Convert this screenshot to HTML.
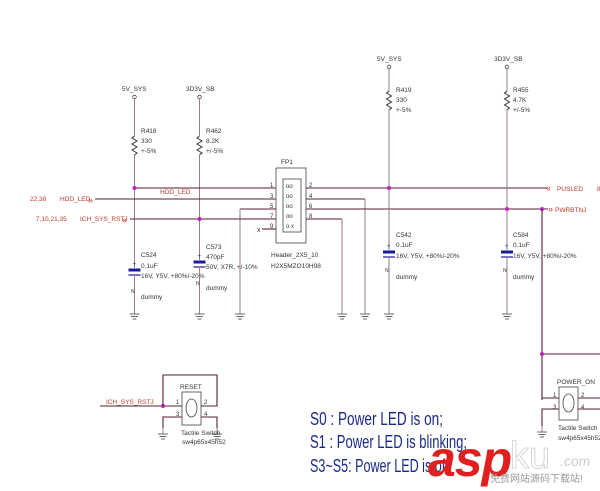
<!DOCTYPE html>
<html><head><meta charset="utf-8"><style>
html,body{margin:0;padding:0;background:#fff;width:600px;height:491px;overflow:hidden}
svg{display:block}
text{font-family:"Liberation Sans",sans-serif}
.s{font-size:6.5px;fill:#333}
.r{font-size:6.5px;fill:#c0392b}
.w{stroke:#5a1f2e;stroke-width:1.1;fill:none}
.v{stroke:#9a7a88;stroke-width:1;fill:none}
.k{stroke:#444;stroke-width:0.8;fill:none}
</style></head><body>
<svg width="600" height="491" viewBox="0 0 600 491" xmlns="http://www.w3.org/2000/svg">
<defs>
<g id="gnd"><line x1="0" y1="0" x2="0" y2="6" class="v"/><line x1="-5" y1="6" x2="5" y2="6" class="k"/><line x1="-3.5" y1="8.5" x2="3.5" y2="8.5" class="k"/><line x1="-2" y1="11" x2="2" y2="11" class="k"/></g>
<g id="res"><polyline points="0,0 -2.5,2 2.5,5 -2.5,8 2.5,11 -2.5,14 2.5,17 0,19" stroke="#333" stroke-width="1" fill="none"/></g>
<g id="cap"><line x1="-6" y1="0" x2="6" y2="0" stroke="#1a1a9a" stroke-width="3"/><line x1="-6" y1="5" x2="6" y2="5" stroke="#1a1a9a" stroke-width="1.2"/><text x="-2" y="-4" style="font-size:6px;fill:#1a1a9a">+</text></g>
</defs>

<text x="122" y="91" class="s">5V_SYS</text>
<circle cx="134.5" cy="97" r="1.8" class="k"/>
<line x1="134.5" y1="99" x2="134.5" y2="136" class="v"/>
<use href="#res" x="134.5" y="136"/>
<line x1="134.5" y1="155" x2="134.5" y2="268" class="v"/>
<use href="#cap" x="134.5" y="270"/>
<line x1="134.5" y1="275" x2="134.5" y2="308" class="v"/>
<use href="#gnd" x="134.5" y="308"/>
<text x="141" y="133" class="s">R418</text><text x="141" y="143" class="s">330</text><text x="141" y="153" class="s">+-5%</text>
<text x="141" y="257" class="s">C524</text><text x="141" y="268" class="s">0.1uF</text><text x="141" y="278" class="s">16V, Y5V, +80%/-20%</text>
<text x="131" y="293" class="s" style="font-size:5px">N</text><text x="141" y="299" class="s">dummy</text>

<text x="186" y="91" class="s">3D3V_SB</text>
<circle cx="199.5" cy="97" r="1.8" class="k"/>
<line x1="199.5" y1="99" x2="199.5" y2="136" class="v"/>
<use href="#res" x="199.5" y="136"/>
<line x1="199.5" y1="155" x2="199.5" y2="260" class="v"/>
<use href="#cap" x="199.5" y="262"/>
<line x1="199.5" y1="267" x2="199.5" y2="308" class="v"/>
<use href="#gnd" x="199.5" y="308"/>
<text x="206" y="133" class="s">R462</text><text x="206" y="143" class="s">8.2K</text><text x="206" y="153" class="s">+/-5%</text>
<text x="206" y="249" class="s">C573</text><text x="206" y="259" class="s">470pF</text><text x="206" y="269" class="s">50V, X7R, +/-10%</text>
<text x="196" y="285" class="s" style="font-size:5px">N</text><text x="206" y="290" class="s">dummy</text>

<text x="30" y="201" class="r">22,38</text>
<text x="60" y="201" class="r">HDD_LED</text>
<text x="88" y="203" style="font-size:9px;fill:#c0392b">»</text>
<text x="36" y="221" class="r">7,10,21,35</text>
<text x="80" y="221" class="r">ICH_SYS_RSTJ</text>
<text x="122" y="223" style="font-size:9px;fill:#c0392b">«</text>
<text x="160" y="194" class="r">HDD_LED</text>
<line x1="134.5" y1="188" x2="276" y2="188" class="w"/>
<line x1="95" y1="199" x2="276" y2="199" class="w"/>
<line x1="240" y1="209" x2="276" y2="209" class="w"/>
<line x1="240" y1="209" x2="240" y2="308" class="v"/>
<use href="#gnd" x="240" y="308"/>
<line x1="130" y1="219" x2="276" y2="219" class="w"/>
<line x1="262" y1="229" x2="276" y2="229" class="w"/>
<text x="257" y="232" style="font-size:7px;fill:#5a1f2e">x</text>
<circle cx="134.5" cy="188" r="2" fill="#c020c0"/>
<circle cx="199.5" cy="219" r="2" fill="#c020c0"/>

<text x="281" y="164" class="s">FP1</text>
<rect x="276" y="168" width="30" height="75" class="k" stroke-width="1"/>
<rect x="283" y="179" width="18" height="53" class="k"/>
<g style="font-size:6px;fill:#333">
<text x="270" y="187">1</text><text x="270" y="198">3</text><text x="270" y="208">5</text><text x="270" y="218">7</text><text x="270" y="228">9</text>
<text x="309" y="187">2</text><text x="309" y="198">4</text><text x="309" y="208">6</text><text x="309" y="218">8</text>
<text x="286" y="188">oo</text><text x="286" y="198">oo</text><text x="286" y="208">oo</text><text x="286" y="218">oo</text><text x="286" y="228">o x</text>
</g>
<text x="271" y="257" class="s">Header_2X5_10</text>
<text x="271" y="268" class="s">H2X5MZO10H98</text>

<line x1="306" y1="188" x2="547" y2="188" class="w"/>
<line x1="306" y1="199" x2="365" y2="199" class="w"/>
<line x1="365" y1="199" x2="365" y2="308" class="v"/>
<use href="#gnd" x="365" y="308"/>
<line x1="306" y1="209" x2="548" y2="209" class="w"/>
<line x1="306" y1="219" x2="342" y2="219" class="w"/>
<line x1="342" y1="219" x2="342" y2="308" class="v"/>
<use href="#gnd" x="342" y="308"/>
<text x="546" y="191" style="font-size:9px;fill:#c0392b">«</text>
<text x="557" y="191" class="r">PUSLED</text>
<text x="548" y="212" style="font-size:9px;fill:#c0392b">»</text>
<text x="555" y="212" class="r">PWRBTNJ</text>
<text x="597" y="191" class="r">8</text>

<text x="377" y="61" class="s">5V_SYS</text>
<circle cx="389" cy="67" r="1.8" class="k"/>
<line x1="389" y1="69" x2="389" y2="91" class="v"/>
<use href="#res" x="389" y="91"/>
<line x1="389" y1="110" x2="389" y2="250" class="v"/>
<use href="#cap" x="389" y="252"/>
<line x1="389" y1="257" x2="389" y2="308" class="v"/>
<use href="#gnd" x="389" y="308"/>
<text x="396" y="92" class="s">R419</text><text x="396" y="102" class="s">330</text><text x="396" y="112" class="s">+-5%</text>
<text x="396" y="237" class="s">C542</text><text x="396" y="247" class="s">0.1uF</text><text x="396" y="258" class="s">16V, Y5V, +80%/-20%</text>
<text x="385" y="272" class="s" style="font-size:5px">N</text><text x="396" y="279" class="s">dummy</text>
<circle cx="389" cy="188" r="2" fill="#c020c0"/>

<text x="494" y="61" class="s">3D3V_SB</text>
<circle cx="507" cy="67" r="1.8" class="k"/>
<line x1="507" y1="69" x2="507" y2="91" class="v"/>
<use href="#res" x="507" y="91"/>
<line x1="507" y1="110" x2="507" y2="250" class="v"/>
<use href="#cap" x="507" y="252"/>
<line x1="507" y1="257" x2="507" y2="308" class="v"/>
<use href="#gnd" x="507" y="308"/>
<text x="513" y="92" class="s">R455</text><text x="513" y="102" class="s">4.7K</text><text x="513" y="112" class="s">+/-5%</text>
<text x="513" y="237" class="s">C584</text><text x="513" y="247" class="s">0.1uF</text><text x="513" y="258" class="s">16V, Y5V, +80%/-20%</text>
<text x="503" y="272" class="s" style="font-size:5px">N</text><text x="513" y="279" class="s">dummy</text>
<circle cx="507" cy="209" r="2" fill="#c020c0"/>
<circle cx="542" cy="209" r="2" fill="#c020c0"/>
<line x1="542" y1="209" x2="542" y2="400" class="w"/>

<text x="106" y="404" class="r">ICH_SYS_RSTJ</text>
<line x1="100" y1="406" x2="182" y2="406" class="w"/>
<circle cx="163" cy="406" r="2" fill="#c020c0"/>
<polyline points="163,406 163,375 217,375 217,406 201,406" class="w"/>
<polyline points="182,417 163,417 163,428" class="w"/>
<use href="#gnd" x="163" y="428"/>
<polyline points="201,417 217,417 217,428" class="w"/>
<use href="#gnd" x="217" y="428"/>
<rect x="182" y="392" width="19" height="33" class="k" stroke-width="1"/>
<ellipse cx="191.5" cy="408" rx="5.5" ry="9" class="k"/>
<text x="180" y="389" class="s">RESET</text>
<g style="font-size:6px;fill:#333"><text x="176" y="404">1</text><text x="176" y="416">3</text><text x="204" y="404">2</text><text x="204" y="416">4</text></g>
<text x="181" y="435" class="s">Tactile Switch</text>
<text x="182" y="444" class="s">sw4p65x45h52</text>

<line x1="542" y1="354" x2="600" y2="354" class="w"/>
<circle cx="542" cy="354" r="2" fill="#c020c0"/>
<line x1="542" y1="398" x2="559" y2="398" class="w"/>
<polyline points="559,409 542,409 542,426" class="w"/>
<use href="#gnd" x="542" y="426"/>
<line x1="578" y1="398" x2="600" y2="398" class="w"/>
<line x1="578" y1="409" x2="600" y2="409" class="w"/>
<rect x="559" y="387" width="19" height="33" class="k" stroke-width="1"/>
<ellipse cx="568.5" cy="403" rx="5.5" ry="9" class="k"/>
<text x="557" y="384" class="s">POWER_ON</text>
<g style="font-size:6px;fill:#333"><text x="553" y="397">1</text><text x="553" y="409">3</text><text x="581" y="397">2</text><text x="581" y="409">4</text></g>
<text x="558" y="430" class="s">Tactile Switch</text>
<text x="558" y="440" class="s">sw4p65x45h52</text>

<g style="font-size:18px;fill:#1a2a8a">
<text x="310" y="425" textLength="133" lengthAdjust="spacingAndGlyphs">S0  :  Power LED is on;</text>
<text x="310" y="448" textLength="157" lengthAdjust="spacingAndGlyphs">S1  :  Power LED is blinking;</text>
<text x="310" y="472" textLength="142" lengthAdjust="spacingAndGlyphs">S3~S5: Power LED is off.</text>
</g>

<text x="428" y="476" style="font-size:50px;font-weight:bold;font-style:italic;fill:#e01f1f;letter-spacing:-1px">asp</text>
<text x="510" y="468" style="font-size:38px;fill:#fff;stroke:#ccc;stroke-width:0.8">ku</text>
<text x="560" y="466" style="font-size:14px;fill:#ccc;font-style:italic">.com</text>
<text x="490" y="482" style="font-size:10px;fill:#999;font-family:'Liberation Sans','Noto Sans CJK SC',sans-serif">免费网站源码下载站!</text>
</svg>
</body></html>
